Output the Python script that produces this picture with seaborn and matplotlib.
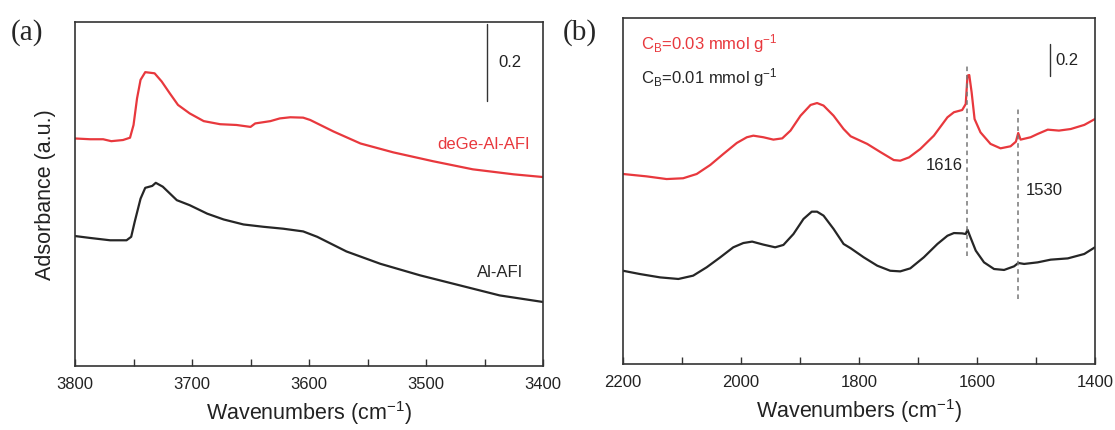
import matplotlib
matplotlib.use("Agg")
import matplotlib.pyplot as plt
import seaborn as sns
import pandas as pd
from matplotlib.ticker import MultipleLocator

# ---------------- data (a) ----------------
wn_a_red = [3800, 3787, 3776, 3769, 3759, 3753, 3750, 3747, 3744, 3740, 3732, 3726, 3719,
            3712, 3702, 3690, 3676, 3662, 3650, 3646, 3633, 3625, 3616, 3605, 3599, 3579,
            3556, 3528, 3494, 3460, 3425, 3400]
abs_a_red = [0.590, 0.588, 0.588, 0.583, 0.586, 0.592, 0.625, 0.694, 0.742, 0.762, 0.759,
             0.738, 0.707, 0.677, 0.655, 0.635, 0.627, 0.625, 0.620, 0.629, 0.635, 0.642,
             0.645, 0.644, 0.638, 0.608, 0.577, 0.554, 0.531, 0.510, 0.497, 0.490]
wn_a_blk = [3800, 3787, 3770, 3756, 3752, 3749, 3744, 3740, 3734, 3731, 3725, 3713, 3702,
            3687, 3673, 3656, 3639, 3622, 3605, 3593, 3568, 3539, 3505, 3471, 3437, 3400]
abs_a_blk = [0.337, 0.332, 0.326, 0.326, 0.335, 0.374, 0.434, 0.462, 0.467, 0.475, 0.465,
             0.430, 0.417, 0.395, 0.380, 0.367, 0.361, 0.356, 0.349, 0.335, 0.297, 0.265,
             0.235, 0.209, 0.183, 0.166]

# ---------------- data (b) ----------------
wn_b_red = [2200, 2160, 2126, 2098, 2075, 2052, 2030, 2007, 1990, 1979, 1962, 1945, 1930,
            1916, 1899, 1882, 1871, 1860, 1843, 1826, 1814, 1786, 1763, 1741, 1730, 1715,
            1696, 1673, 1650, 1639, 1625, 1619, 1616, 1613, 1609, 1604, 1594, 1577, 1560,
            1543, 1534, 1530, 1526, 1509, 1497, 1480, 1461, 1441, 1418, 1400]
abs_b_red = [1.200, 1.185, 1.168, 1.173, 1.200, 1.257, 1.326, 1.396, 1.432, 1.442, 1.432,
             1.417, 1.425, 1.474, 1.568, 1.636, 1.648, 1.632, 1.568, 1.484, 1.438, 1.390,
             1.337, 1.288, 1.284, 1.305, 1.358, 1.442, 1.558, 1.590, 1.604, 1.642, 1.821,
             1.825, 1.716, 1.547, 1.463, 1.390, 1.362, 1.375, 1.404, 1.459, 1.417, 1.432,
             1.453, 1.480, 1.474, 1.484, 1.510, 1.547]
wn_b_blk = [2200, 2171, 2137, 2106, 2081, 2058, 2035, 2013, 1996, 1981, 1962, 1942, 1928,
            1911, 1894, 1880, 1871, 1860, 1843, 1826, 1814, 1792, 1769, 1747, 1730, 1713,
            1690, 1667, 1650, 1639, 1625, 1619, 1616, 1611, 1602, 1588, 1571, 1554, 1537,
            1530, 1520, 1497, 1475, 1446, 1418, 1400]
abs_b_blk = [0.589, 0.568, 0.547, 0.537, 0.558, 0.611, 0.674, 0.737, 0.764, 0.773, 0.754,
             0.737, 0.752, 0.821, 0.916, 0.962, 0.962, 0.937, 0.853, 0.758, 0.731, 0.674,
             0.621, 0.589, 0.585, 0.604, 0.674, 0.758, 0.810, 0.827, 0.825, 0.821, 0.848,
             0.800, 0.716, 0.642, 0.600, 0.594, 0.617, 0.638, 0.632, 0.642, 0.659, 0.667,
             0.695, 0.737]

peak_wn = [1616, 1530]
peak_lo = [0.684, 0.410]
peak_hi = [1.895, 1.615]
peak_labels = ["1616", "1530"]

RED = "#E8383D"
BLK = "#262626"

sns.set_style("white")
plt.rcParams["font.family"] = ["Liberation Sans", "DejaVu Sans"]
plt.rcParams["mathtext.fontset"] = "custom"
plt.rcParams["mathtext.rm"] = "Liberation Sans"
plt.rcParams["mathtext.it"] = "Liberation Sans"

fig = plt.figure(figsize=(11.15, 4.31), dpi=100)
axA = fig.add_axes([0.0673, 0.1485, 0.4197, 0.7981])
axB = fig.add_axes([0.5587, 0.1531, 0.4233, 0.8028])

def style(ax, major, minor):
    for s in ax.spines.values():
        s.set_color("#333333")
        s.set_linewidth(1.2)
    ax.set_yticks([])
    ax.xaxis.set_major_locator(MultipleLocator(major))
    ax.xaxis.set_minor_locator(MultipleLocator(minor))
    ax.tick_params(axis="x", which="both", direction="in", length=5, width=1,
                   color="#333333", top=False, bottom=True, labelsize=12, pad=7,
                   labelcolor="#222222")
    ax.set_xlabel("Wavenumbers (cm$^{-1}$)", fontsize=15.5, color="#222222", labelpad=5)

# panel (a)
dfa_r = pd.DataFrame({"wn": wn_a_red, "A": abs_a_red})
dfa_b = pd.DataFrame({"wn": wn_a_blk, "A": abs_a_blk})
sns.lineplot(data=dfa_r, x="wn", y="A", ax=axA, color=RED, lw=1.6, sort=False, estimator=None)
sns.lineplot(data=dfa_b, x="wn", y="A", ax=axA, color=BLK, lw=1.6, sort=False, estimator=None)
axA.set_xlim(3800, 3400)
axA.set_ylim(0, 0.892)
style(axA, 100, 50)
axA.set_ylabel("Adsorbance (a.u.)", fontsize=15.5, color="#222222", labelpad=14)
axA.plot([3448, 3448], [0.688, 0.888], color="#333333", lw=1)
axA.text(3438, 0.79, "0.2", fontsize=12, color="#222222", va="center", ha="left")
axA.text(3411, 0.577, "deGe-Al-AFI", fontsize=12, color=RED, ha="right", va="center")
axA.text(3417, 0.244, "Al-AFI", fontsize=12, color=BLK, ha="right", va="center")
fig.text(0.010, 0.925, "(a)", fontsize=21, family="Liberation Serif", va="center", ha="left")

# panel (b)
dfb_r = pd.DataFrame({"wn": wn_b_red, "A": abs_b_red})
dfb_b = pd.DataFrame({"wn": wn_b_blk, "A": abs_b_blk})
sns.lineplot(data=dfb_r, x="wn", y="A", ax=axB, color=RED, lw=1.6, sort=False, estimator=None)
sns.lineplot(data=dfb_b, x="wn", y="A", ax=axB, color=BLK, lw=1.6, sort=False, estimator=None)
axB.set_xlim(2200, 1400)
axB.set_ylim(0, 2.185)
style(axB, 200, 100)
axB.set_ylabel("")
axB.vlines(peak_wn, peak_lo, peak_hi, colors="#777777", linestyles=(0, (3, 2.5)), lw=1.1)
axB.text(1624, 1.257, peak_labels[0], fontsize=12, color="#222222", ha="right", va="center")
axB.text(1517, 1.105, peak_labels[1], fontsize=12, color="#222222", ha="left", va="center")
axB.plot([1476, 1476], [1.821, 2.021], color="#333333", lw=1)
axB.text(1467, 1.92, "0.2", fontsize=12, color="#222222", va="center", ha="left")
axB.text(0.038, 0.93, "C$_\\mathrm{B}$=0.03 mmol g$^{-1}$", transform=axB.transAxes,
         fontsize=12, color=RED, ha="left", va="center")
axB.text(0.038, 0.832, "C$_\\mathrm{B}$=0.01 mmol g$^{-1}$", transform=axB.transAxes,
         fontsize=12, color=BLK, ha="left", va="center")
fig.text(0.505, 0.925, "(b)", fontsize=21, family="Liberation Serif", va="center", ha="left")

fig.savefig("out.png", dpi=100)
